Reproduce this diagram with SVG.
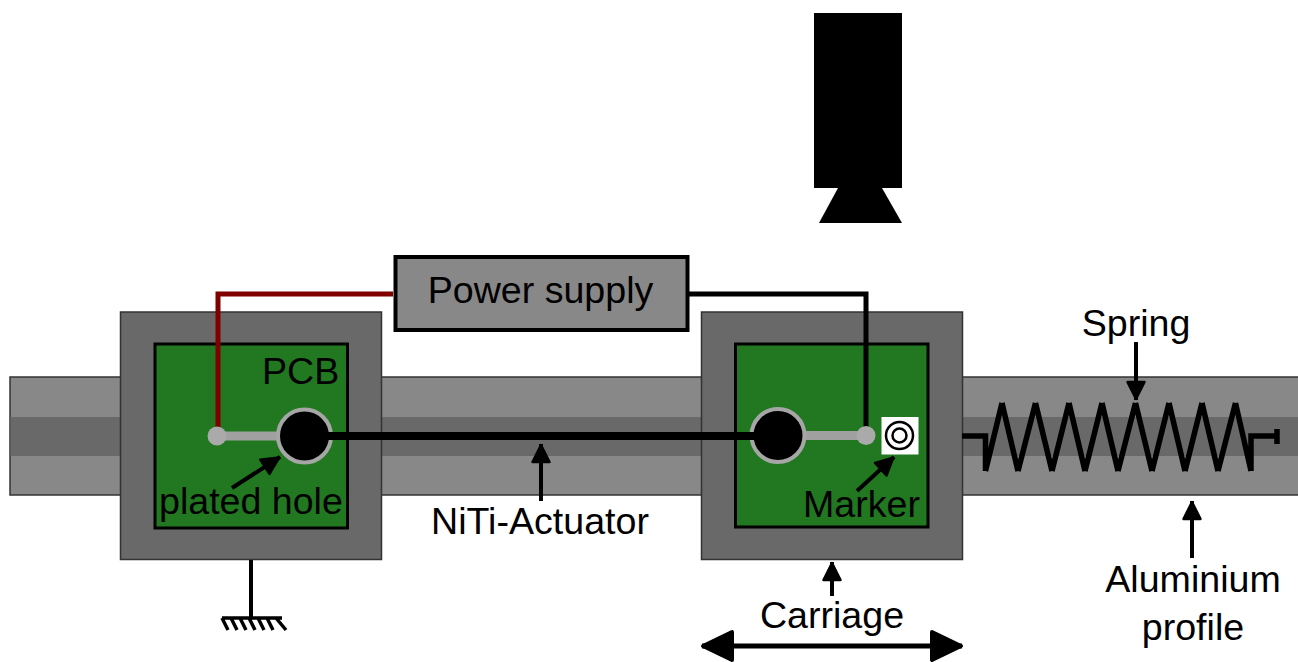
<svg xmlns="http://www.w3.org/2000/svg" width="1298" height="662" viewBox="0 0 1298 662">
<style>
text{font-family:"Liberation Sans",Arial,sans-serif;font-size:37.600px;fill:#000}
.frame{fill:#696969;stroke:#333;stroke-width:1.5}
.pcb{fill:#217821;stroke:#000;stroke-width:3}
.pad{fill:#aaa}
.trace{stroke:#a0a0a0;stroke-width:9;fill:none}
.hole{fill:#000;stroke:#a6a6a6;stroke-width:4}
.wire{fill:none;stroke:#000;stroke-width:5}
.lead{fill:none;stroke:#000;stroke-width:4}
</style>
<defs>
<marker id="ah" markerUnits="userSpaceOnUse" markerWidth="26" markerHeight="26" refX="21" refY="12" orient="auto"><path d="M3 3.500L20 12L3 20.500Z" fill="#000" stroke="#000" stroke-width="2.500" stroke-linejoin="round"/></marker>
<marker id="ahb" markerUnits="userSpaceOnUse" markerWidth="36" markerHeight="36" refX="33" refY="17" orient="auto-start-reverse"><path d="M3 3L32 17L3 31Z" fill="#000" stroke="#000" stroke-width="4" stroke-linejoin="round"/></marker>
</defs>
<g id="profile">
<rect x="10" y="377" width="1289" height="118" fill="#888" stroke="#333" stroke-width="1.5"/>
<rect x="10.500" y="417" width="1288" height="39" fill="#696969"/>
</g>
<g id="camera">
<rect x="814" y="13" width="88" height="175" fill="#000"/>
<path d="M838 188H882L902 223H819Z" fill="#000"/>
</g>
<g id="left-block">
<rect class="frame" x="120.500" y="312" width="261" height="247.500"/>
<rect class="pcb" x="155" y="344" width="192.500" height="184"/>
<text x="262" y="384">PCB</text>
</g>
<g id="carriage">
<rect class="frame" x="701.500" y="312" width="261" height="247.500"/>
<rect class="pcb" x="735.500" y="344" width="192.500" height="183"/>
</g>
<g id="power-supply">
<rect x="395.500" y="257" width="292" height="73" fill="#888" stroke="#000" stroke-width="4"/>
<text x="540.500" y="303" text-anchor="middle">Power supply</text>
</g>
<g id="connectors">
<path d="M393 294H218V436" fill="none" stroke="#800000" stroke-width="5"/>
<path class="wire" d="M689 294H866V436"/>
<path class="trace" d="M217 436H304"/>
<path class="trace" d="M778 435.500H866"/>
<path d="M962 436H985.500V471M985.500 471L1002 403M1002 403L1018 471M1018 471L1035.500 403M1035.500 403L1052 471M1052 471L1069 403M1069 403L1085 471M1085 471L1102 403M1102 403L1118 471M1118 471L1135.500 403M1135.500 403L1152 471M1152 471L1169 403M1169 403L1185 471M1185 471L1202 403M1202 403L1218 471M1218 471L1235.500 403M1235.500 403L1251 471M1251 471V436H1277" fill="none" stroke="#000" stroke-width="5.500"/>
<path d="M1277 429V444" fill="none" stroke="#000" stroke-width="5.500"/>
<path class="lead" d="M251 560V618"/>
<path d="M222 618H282M222 618L228 630M231 618L237 630M240 618L246 630M249 618L255 630M258 618L264 630M267 618L273 630M276 618L286 630" fill="none" stroke="#000" stroke-width="3.500"/>
<path class="lead" d="M232 488L280 457" marker-end="url(#ah)"/>
<path class="lead" d="M857 491L894 457" marker-end="url(#ah)"/>
<path class="lead" d="M541 501V444" marker-end="url(#ah)"/>
<path class="lead" d="M832 596V562" marker-end="url(#ah)"/>
<path class="lead" d="M1136 342V400" marker-end="url(#ah)"/>
<path class="lead" d="M1192 558V501" marker-end="url(#ah)"/>
<path d="M702 646H962" fill="none" stroke="#000" stroke-width="5" marker-start="url(#ahb)" marker-end="url(#ahb)"/>
</g>
<g id="holes">
<circle class="pad" cx="217" cy="436" r="9.500"/>
<circle class="hole" cx="304.500" cy="436" r="26.500"/>
<circle class="hole" cx="778" cy="435.500" r="26.500"/>
<circle class="pad" cx="866" cy="435.500" r="9.500"/>
<path d="M304 436H778" fill="none" stroke="#000" stroke-width="8"/>
</g>
<g id="marker">
<rect x="881.500" y="417" width="37" height="37.500" fill="#fff"/>
<circle cx="899.500" cy="435.500" r="13.500" fill="none" stroke="#000" stroke-width="2.500"/>
<circle cx="899.500" cy="435.500" r="7" fill="none" stroke="#000" stroke-width="2.500"/>
</g>
<g id="labels">
<text x="159" y="514">plated hole</text>
<text x="803" y="517">Marker</text>
<text x="540" y="534" text-anchor="middle">NiTi-Actuator</text>
<text x="832" y="628" text-anchor="middle">Carriage</text>
<text x="1136" y="336" text-anchor="middle">Spring</text>
<text x="1193" y="592" text-anchor="middle">Aluminium</text>
<text x="1193" y="640" text-anchor="middle">profile</text>
</g>
</svg>
